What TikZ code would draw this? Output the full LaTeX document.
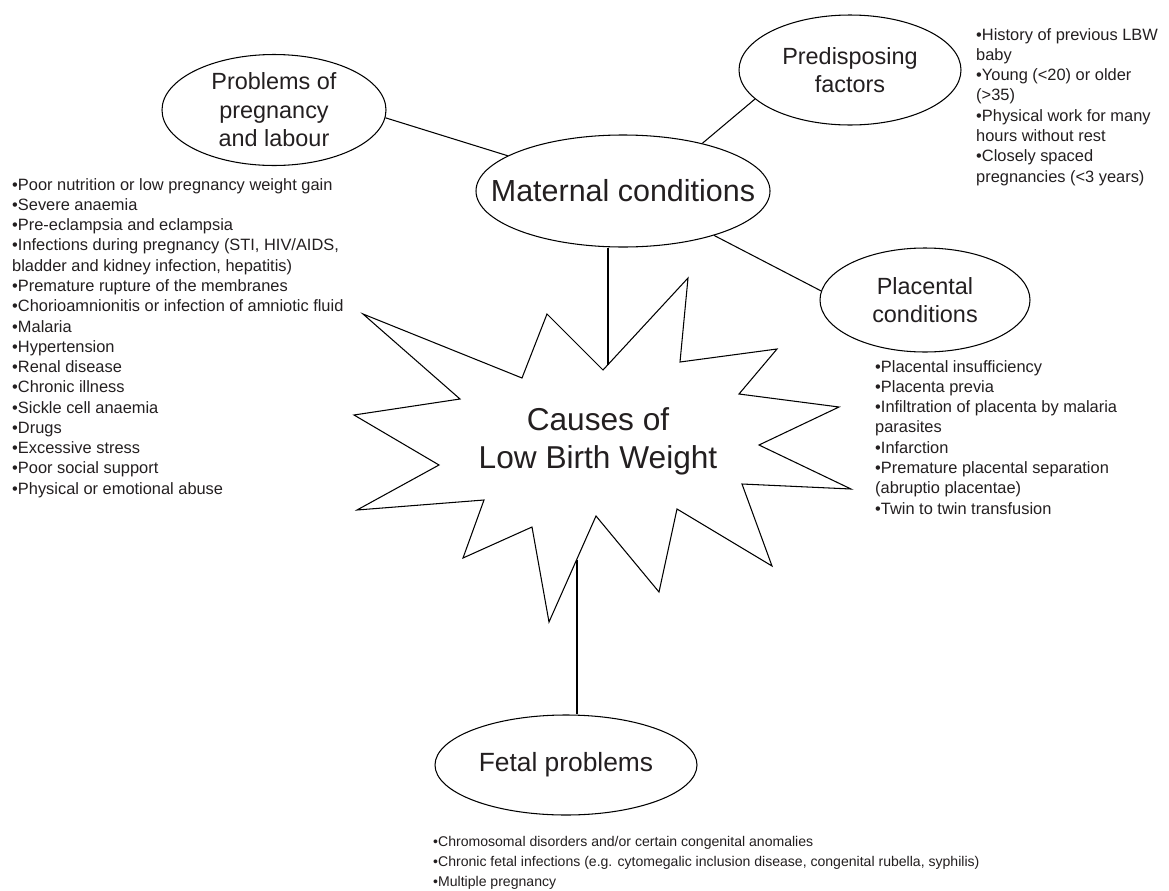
\documentclass[tikz,border=0pt]{standalone}
\usepackage{fontspec}
\setmainfont{Liberation Sans}
\usetikzlibrary{shapes.geometric}
\definecolor{inktext}{HTML}{231F20}

\begin{document}
\begin{tikzpicture}[x=0.03cm, y=-0.03cm,
    causebox/.style 2 args={ellipse, draw, line width=0.9pt, inner sep=0pt, minimum width=#1*0.03cm, minimum height=#2*0.03cm},
    causetext/.style={align=center, text=inktext, inner sep=0pt, font=\fontsize{20}{24.3}\selectfont},
    listtext/.style={anchor=north west, inner sep=0pt, align=left, text=inktext, font=\fontsize{14}{17.3}\selectfont},
    link/.style={draw, line width=0.9pt}
]
    % page
    \useasboundingbox (0,0) rectangle (1169,890);
    \fill[white] (0,0) rectangle (1169,890);

    % Central star
    \draw[line width=0.9pt] (363,314) -- (522,378) -- (547,314) -- (603,370) -- (688,278) -- (680,362)
        -- (777,349) -- (739,394) -- (839,407) -- (759,445) -- (851,489) -- (742,484) -- (772,566)
        -- (677,509) -- (659,592) -- (596,516) -- (549,622) -- (532,527) -- (463,558) -- (484,500)
        -- (357,510) -- (439,465) -- (354,415) -- (460,399) -- cycle;
    \coordinate (startop) at (608,364.6);
    \coordinate (starbot) at (577,560);
    \node[causetext, font=\fontsize{27}{32.7}\selectfont] (starlabel) at (598,441) {Causes of\\Low Birth Weight};

    % Ellipses
    \node[causebox={224}{111}] (prob) at (274,110) {};
    \node[causetext] (problabel) at (prob) {Problems of\\pregnancy\\and labour};

    \node[causebox={222}{110}] (pred) at (850,70) {};
    \node[causetext] (predlabel) at (pred) {Predisposing\\factors};

    \node[causebox={294}{112}] (mat) at (623,191) {};
    \node[causetext, font=\fontsize{26}{30}\selectfont] (matlabel) at (mat) {Maternal conditions};

    \node[causebox={210}{104}] (plac) at (925,300) {};
    \node[causetext] (placlabel) at (plac) {Placental\\conditions};

    \node[causebox={262}{100}] (fet) at (566,765) {};
    \node[causetext, font=\fontsize{22.5}{27}\selectfont] (fetlabel) at (fet) {Fetal problems};

    % Connectors
    \draw[link] (prob.-4) -- (mat.163);
    \draw[link] (pred.-163) -- (mat.31);
    \draw[link] (mat.-26) -- (plac.175);
    \draw[link] (startop) -- (startop |- mat.south);
    \draw[link] (starbot) -- (starbot |- fet.north);

    % Lists
    \node[listtext] (problist) at (12,178) {%
        •Poor nutrition or low pregnancy weight gain\\
        •Severe anaemia\\
        •Pre-eclampsia and eclampsia\\
        •Infections during pregnancy (STI, HIV/AIDS,\\
        bladder and kidney infection, hepatitis)\\
        •Premature rupture of the membranes\\
        •Chorioamnionitis or infection of amniotic fluid\\
        •Malaria\\
        •Hypertension\\
        •Renal disease\\
        •Chronic illness\\
        •Sickle cell anaemia\\
        •Drugs\\
        •Excessive stress\\
        •Poor social support\\
        •Physical or emotional abuse};

    \node[listtext] (predlist) at (976,28) {%
        •History of previous LBW\\
        baby\\
        •Young (<20) or older\\
        (>35)\\
        •Physical work for many\\
        hours without rest\\
        •Closely spaced\\
        pregnancies (<3 years)};

    \node[listtext] (placlist) at (875,360) {%
        •Placental insufficiency\\
        •Placenta previa\\
        •Infiltration of placenta by malaria\\
        parasites\\
        •Infarction\\
        •Premature placental separation\\
        (abruptio placentae)\\
        •Twin to twin transfusion};

    \node[listtext, font=\fontsize{12}{17.3}\selectfont] (fetlist) at (433,836) {%
        •Chromosomal disorders and/or certain congenital anomalies\\
        •Chronic fetal infections (e.g. cytomegalic inclusion disease, congenital rubella, syphilis)\\
        •Multiple pregnancy};
\end{tikzpicture}
\end{document}
